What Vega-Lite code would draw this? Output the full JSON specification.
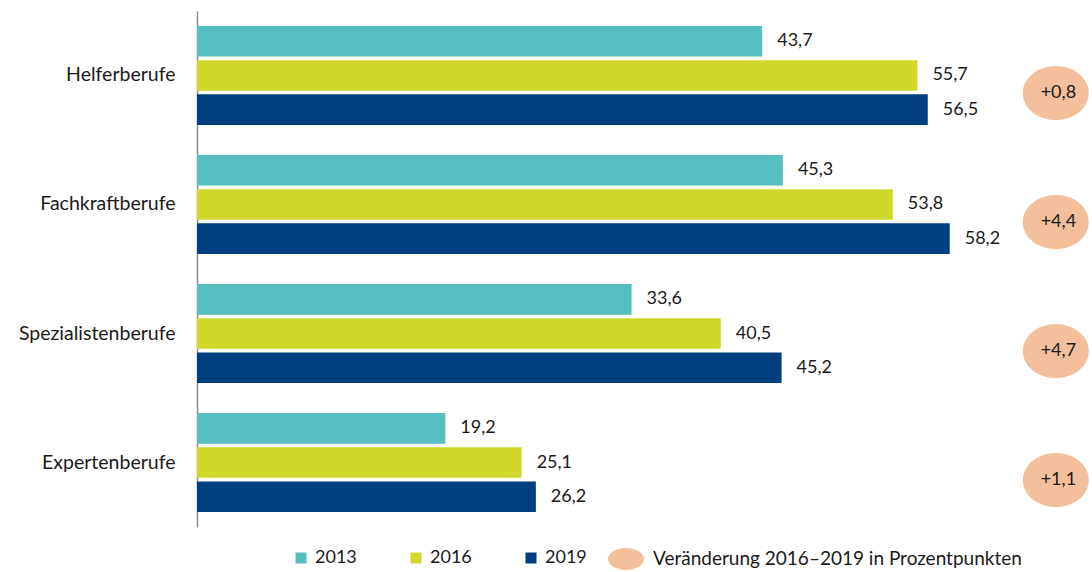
{
  "$schema": "https://vega.github.io/schema/vega-lite/v6.json",
  "width": 895,
  "height": 516,
  "autosize": {"type": "none"},
  "padding": {"left": 197, "top": 11, "right": 0, "bottom": 45},
  "background": "white",
  "config": {
    "view": {"stroke": null},
    "font": "Lato",
    "locale": {"number": {"decimal": ",", "thousands": ".", "grouping": [3], "currency": ["", " €"]}}
  },
  "datasets": {
    "bars": [
      {"group": "Helferberufe", "series": "2013", "value": 43.7},
      {"group": "Helferberufe", "series": "2016", "value": 55.7},
      {"group": "Helferberufe", "series": "2019", "value": 56.5},
      {"group": "Fachkraftberufe", "series": "2013", "value": 45.3},
      {"group": "Fachkraftberufe", "series": "2016", "value": 53.8},
      {"group": "Fachkraftberufe", "series": "2019", "value": 58.2},
      {"group": "Spezialistenberufe", "series": "2013", "value": 33.6},
      {"group": "Spezialistenberufe", "series": "2016", "value": 40.5},
      {"group": "Spezialistenberufe", "series": "2019", "value": 45.2},
      {"group": "Expertenberufe", "series": "2013", "value": 19.2},
      {"group": "Expertenberufe", "series": "2016", "value": 25.1},
      {"group": "Expertenberufe", "series": "2019", "value": 26.2}
    ],
    "change": [
      {"group": "Helferberufe", "series": "Veränderung 2016–2019 in Prozentpunkten", "change": 0.8},
      {"group": "Fachkraftberufe", "series": "Veränderung 2016–2019 in Prozentpunkten", "change": 4.4},
      {"group": "Spezialistenberufe", "series": "Veränderung 2016–2019 in Prozentpunkten", "change": 4.7},
      {"group": "Expertenberufe", "series": "Veränderung 2016–2019 in Prozentpunkten", "change": 1.1}
    ]
  },
  "layer": [
    {
      "data": {"name": "bars"},
      "mark": {"type": "bar"},
      "encoding": {
        "y": {
          "field": "group", "type": "nominal",
          "sort": ["Helferberufe", "Fachkraftberufe", "Spezialistenberufe", "Expertenberufe"],
          "scale": {"paddingInner": 0.233, "paddingOuter": 0.116},
          "axis": {"title": null, "ticks": false, "labelPadding": 22, "labelFontSize": 19.5, "labelFont": "Lato", "labelColor": "#1a1a1a", "domainColor": "#8c8c8c", "domainWidth": 1.5, "grid": false, "labelLimit": 300}
        },
        "yOffset": {"field": "series", "type": "nominal", "sort": ["2013", "2016", "2019"], "scale": {"paddingInner": 0.104, "paddingOuter": 0}},
        "x": {"field": "value", "type": "quantitative", "scale": {"domain": [0, 69.2], "nice": false}, "axis": null},
        "color": {
          "field": "series", "type": "nominal",
          "scale": {"domain": ["2013", "2016", "2019"], "range": ["#55bfc0", "#d1d82c", "#003f7f"]},
          "legend": {"title": null, "orient": "none", "direction": "horizontal", "legendX": 95, "legendY": 538, "symbolType": "square", "symbolSize": 121, "symbolStrokeWidth": 0, "labelFontSize": 18, "labelFont": "Lato", "labelColor": "#1a1a1a", "columnPadding": 50, "labelOffset": 5, "padding": 0}
        }
      }
    },
    {
      "data": {"name": "bars"},
      "mark": {"type": "text", "align": "left", "baseline": "middle", "dx": 15, "fontSize": 18, "font": "Lato", "color": "#1a1a1a"},
      "encoding": {
        "y": {"field": "group", "type": "nominal", "sort": ["Helferberufe", "Fachkraftberufe", "Spezialistenberufe", "Expertenberufe"]},
        "yOffset": {"field": "series", "type": "nominal", "sort": ["2013", "2016", "2019"]},
        "x": {"field": "value", "type": "quantitative"},
        "text": {"field": "value", "type": "quantitative", "format": ".1f"}
      }
    },
    {
      "data": {"name": "change"},
      "mark": {"type": "point", "filled": true, "opacity": 1, "strokeWidth": 0, "size": 4356,
        "shape": "M-1,0.53C-1,0.0771,-0.5523,-0.29,0,-0.29C0.5523,-0.29,1,0.0771,1,0.53C1,0.9829,0.5523,1.35,0,1.35C-0.5523,1.35,-1,0.9829,-1,0.53Z"},
      "encoding": {
        "y": {"field": "group", "type": "nominal", "sort": ["Helferberufe", "Fachkraftberufe", "Spezialistenberufe", "Expertenberufe"]},
        "x": {"datum": 66.4, "type": "quantitative"},
        "fill": {
          "field": "series", "type": "nominal",
          "scale": {"domain": ["Veränderung 2016–2019 in Prozentpunkten"], "range": ["#f4c09b"]},
          "legend": {"title": null, "orient": "none", "legendX": 411, "legendY": 530, "symbolType": "M-1,0C-1,-0.3369,-0.5523,-0.61,0,-0.61C0.5523,-0.61,1,-0.3369,1,0C1,0.3369,0.5523,0.61,0,0.61C-0.5523,0.61,-1,0.3369,-1,0Z", "symbolSize": 1296, "symbolStrokeWidth": 0, "symbolOpacity": 1, "labelFontSize": 19, "labelFont": "Lato", "labelColor": "#1a1a1a", "labelOffset": 9, "labelLimit": 600, "padding": 0}
        }
      }
    },
    {
      "data": {"name": "change"},
      "mark": {"type": "text", "align": "center", "baseline": "middle", "dy": 17.5, "fontSize": 18, "font": "Lato", "color": "#1a1a1a"},
      "encoding": {
        "y": {"field": "group", "type": "nominal", "sort": ["Helferberufe", "Fachkraftberufe", "Spezialistenberufe", "Expertenberufe"]},
        "x": {"datum": 66.6, "type": "quantitative"},
        "text": {"field": "change", "type": "quantitative", "format": "+.1f"}
      }
    }
  ]
}
